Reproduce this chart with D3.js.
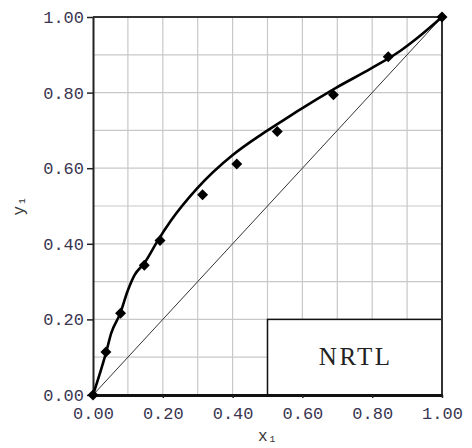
<!DOCTYPE html>
<html><head><meta charset="utf-8">
<script src="https://cdn.jsdelivr.net/npm/d3@7"></script>
<style>html,body{margin:0;padding:0;background:#fff;}</style>
</head><body>
<svg id="c" width="472" height="448"></svg>
<script>
const tickValues = [0, 0.2, 0.4, 0.6, 0.8, 1.0];
const gridValues = [0.1, 0.2, 0.3, 0.4, 0.5, 0.6, 0.7, 0.8, 0.9];
const expX = [0, 0.037, 0.079, 0.147, 0.192, 0.314, 0.412, 0.528, 0.689, 0.846, 1.0];
const expY = [0, 0.114, 0.216, 0.343, 0.409, 0.530, 0.611, 0.697, 0.794, 0.895, 1.0];
const nrtlX = [0, 0.038, 0.052, 0.078, 0.100, 0.119, 0.148, 0.186, 0.224, 0.297, 0.402, 0.479, 0.536, 0.593, 0.695, 0.797, 0.880, 0.930, 1.0];
const nrtlY = [0, 0.114, 0.163, 0.216, 0.277, 0.317, 0.350, 0.409, 0.462, 0.545, 0.636, 0.687, 0.721, 0.755, 0.812, 0.864, 0.910, 0.945, 1.0];
const diagX = [0, 1];
const diagY = [0, 1];
const modelLabel = "NRTL";
const xLabel = "x\u2081";
const yLabel = "y\u2081";

const svg = d3.select("#c");
const L = 93, R = 442, T = 17, B = 395;
const x = d3.scaleLinear().domain([0, 1]).range([L, R]);
const y = d3.scaleLinear().domain([0, 1]).range([B, T]);
const mono = "'Liberation Mono','Courier New',monospace";

// grid
const g = svg.append("g");
g.selectAll(".gv").data(gridValues).enter().append("line")
  .attr("x1", d => x(d)).attr("x2", d => x(d)).attr("y1", T).attr("y2", B)
  .attr("stroke", "#c8c8c8").attr("stroke-width", 1.2);
g.selectAll(".gh").data(gridValues).enter().append("line")
  .attr("y1", d => y(d)).attr("y2", d => y(d)).attr("x1", L).attr("x2", R)
  .attr("stroke", "#c8c8c8").attr("stroke-width", 1.2);

// model label box
svg.append("rect")
  .attr("x", x(0.5)).attr("y", y(0.2))
  .attr("width", x(1) - x(0.5)).attr("height", y(0) - y(0.2))
  .attr("fill", "#fff").attr("stroke", "#111").attr("stroke-width", 1.5);
svg.append("text")
  .attr("x", (x(0.5) + x(1)) / 2 + 1).attr("y", y(0.1) + 8)
  .attr("text-anchor", "middle")
  .attr("font-family", "'Liberation Serif','Times New Roman',serif").attr("font-size", 25)
  .attr("letter-spacing", 2.5).attr("fill", "#222")
  .text(modelLabel);

// frame
svg.append("line").attr("x1", L).attr("x2", R).attr("y1", T).attr("y2", T).attr("stroke", "#333").attr("stroke-width", 2);
svg.append("line").attr("x1", R).attr("x2", R).attr("y1", T).attr("y2", B).attr("stroke", "#333").attr("stroke-width", 2);

// axes
const xAxis = d3.axisBottom(x).tickValues(tickValues).tickFormat(d3.format(".2f")).tickSize(3).tickSizeOuter(0).tickPadding(9);
const yAxis = d3.axisLeft(y).tickValues(tickValues).tickFormat(d3.format(".2f")).tickSize(6).tickSizeOuter(0).tickPadding(3);
const gx = svg.append("g").attr("transform", `translate(0,${B})`).call(xAxis);
const gy = svg.append("g").attr("transform", `translate(${L},0)`).call(yAxis);
[gx, gy].forEach(a => {
  a.selectAll("text").attr("font-family", mono).attr("font-size", 17).attr("fill", "#3a3550");
  a.selectAll(".tick line").attr("stroke", "#222").attr("stroke-width", 1.5);
});
gx.select(".domain").attr("stroke", "#111").attr("stroke-width", 3);
gy.select(".domain").attr("stroke", "#222").attr("stroke-width", 2);
gx.selectAll("text").attr("dy", "0.71em");

// diagonal
const line = d3.line().x(d => x(d[0])).y(d => y(d[1]));
svg.append("path").datum(diagX.map((v, i) => [v, diagY[i]]))
  .attr("d", line).attr("fill", "none").attr("stroke", "#333").attr("stroke-width", 1);

// NRTL curve
svg.append("path").datum(nrtlX.map((v, i) => [v, nrtlY[i]]))
  .attr("d", line.curve(d3.curveMonotoneX)).attr("fill", "none")
  .attr("stroke", "#000").attr("stroke-width", 2.6).attr("stroke-linejoin", "round");

// experimental points
const sym = d3.symbol().type(d3.symbolSquare).size(60);
svg.selectAll(".pt").data(expX.map((v, i) => [v, expY[i]])).enter().append("path")
  .attr("d", sym)
  .attr("transform", d => `translate(${x(d[0])},${y(d[1])}) rotate(45)`)
  .attr("fill", "#000");

// axis labels
svg.append("text").attr("x", x(0.5)).attr("y", 441)
  .attr("text-anchor", "middle").attr("font-family", mono).attr("font-size", 16).attr("fill", "#333")
  .text(xLabel);
svg.append("text").attr("transform", "translate(24,206) rotate(-90)")
  .attr("text-anchor", "middle").attr("font-family", mono).attr("font-size", 16).attr("fill", "#333")
  .text(yLabel);
</script>
</body></html>
